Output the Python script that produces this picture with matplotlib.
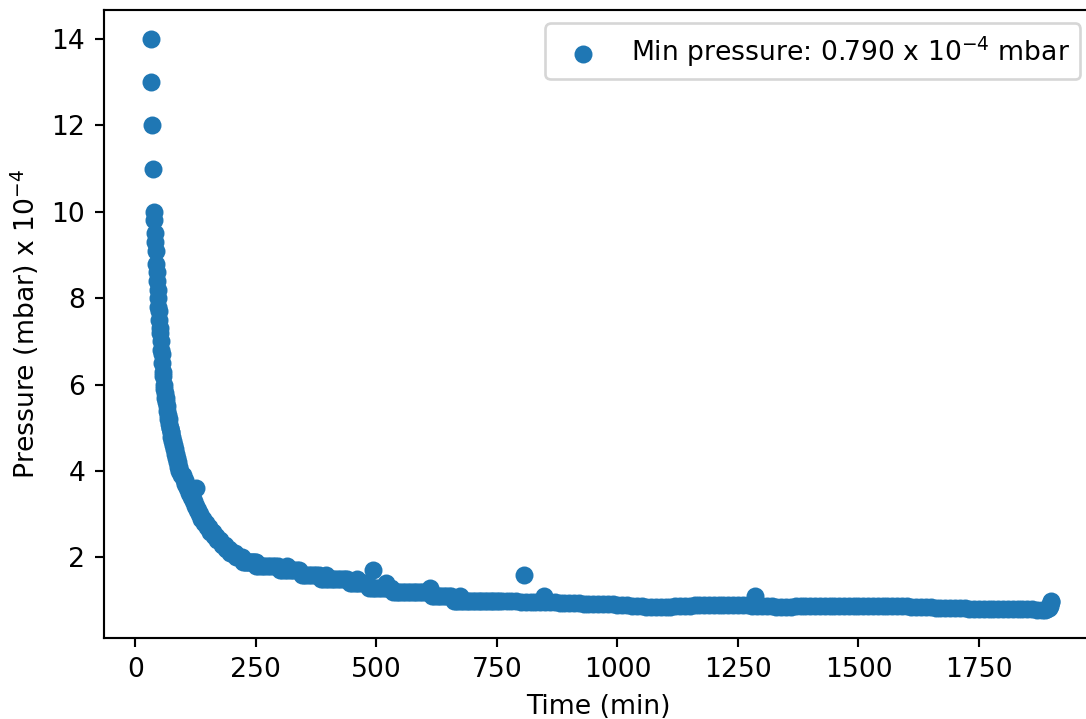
import matplotlib
matplotlib.use("Agg")
import matplotlib.pyplot as plt
import numpy as np

# Gauge readings during pump-down (pressure in units of 1e-4 mbar)
t_start = [32, 33, 34, 36, 38]
p_start = [14, 13, 12, 11, 10]

t_fast = list(range(39, 93))
p_fast = [9.8, 9.5, 9.3, 9.1, 8.8, 8.6, 8.4, 8.2, 8.0,
          7.8, 7.7, 7.5, 7.3, 7.2, 7.0,
          6.8, 6.7, 6.5, 6.3, 6.2, 6.0,
          5.9, 5.8, 5.7, 5.7, 5.6, 5.5, 5.4, 5.3, 5.2, 5.2, 5.1, 5.0,
          5.0, 4.9, 4.9, 4.8, 4.8, 4.7, 4.7, 4.6, 4.6, 4.5, 4.5, 4.4, 4.4,
          4.3, 4.3, 4.2, 4.2, 4.1, 4.1, 4.0, 4.0]

t_knee = [94, 96, 98, 100, 102, 104, 106, 108, 110, 112, 114, 116, 118,
          120, 122, 124, 126, 128, 130, 132, 134]
p_knee = [3.9, 3.9, 3.9, 3.8, 3.8, 3.7, 3.7, 3.6, 3.6, 3.5, 3.5, 3.4, 3.4,
          3.3, 3.3, 3.2, 3.2, 3.1, 3.1, 3.0, 3.0]

t_bend = list(range(137, 249, 3))
p_bend = [2.9, 2.9, 2.8, 2.8, 2.7, 2.7, 2.6, 2.6, 2.6, 2.5, 2.5,
          2.4, 2.4, 2.4, 2.3, 2.3, 2.3, 2.2, 2.2, 2.2,
          2.1, 2.1, 2.1, 2.1, 2.0, 2.0, 2.0, 2.0, 2.0,
          1.9, 1.9, 1.9, 1.9, 1.9, 1.9, 1.9, 1.9, 1.9]

t_tail = list(range(250, 761, 5))
p_tail = ([1.8] * 10 + [1.7] * 9 + [1.6] * 8 + [1.5] * 12 + [1.4] * 8
          + [1.3] * 10 + [1.2] * 16 + [1.1] * 9 + [1.0] * 21)

t_late = list(range(770, 1881, 10))
p_late = [0.99, 0.99, 0.99, 0.98, 0.98, 0.98, 0.98, 0.97, 0.97, 0.96,
          0.96, 0.95, 0.95, 0.94, 0.94, 0.94, 0.93, 0.93, 0.93, 0.93,
          0.92, 0.92, 0.92, 0.91, 0.90, 0.89, 0.88, 0.87, 0.87, 0.86,
          0.86, 0.86, 0.86, 0.86, 0.86, 0.87, 0.87, 0.88, 0.88, 0.89,
          0.89, 0.89, 0.90, 0.90, 0.90, 0.90, 0.90, 0.90, 0.89, 0.89,
          0.89, 0.88, 0.88, 0.87, 0.87, 0.87, 0.86, 0.86, 0.86, 0.86,
          0.87, 0.87, 0.87, 0.87, 0.87, 0.87, 0.87, 0.87,
          0.88, 0.88, 0.88, 0.88, 0.88, 0.88, 0.88, 0.88, 0.88, 0.88,
          0.88, 0.88, 0.88, 0.88, 0.88,
          0.87, 0.86, 0.85, 0.85, 0.85, 0.85, 0.84, 0.84, 0.83,
          0.82, 0.82, 0.82, 0.82,
          0.81, 0.81, 0.81, 0.81, 0.81, 0.81, 0.81, 0.81,
          0.80, 0.80, 0.80, 0.80, 0.80, 0.80,
          0.79, 0.79]

t_end = [1888, 1892, 1895, 1897, 1898, 1899, 1899]
p_end = [0.79, 0.81, 0.84, 0.88, 0.93, 0.97, 1.0]

# Isolated pressure bursts
t_spike = [125, 251, 314, 395, 459, 493, 521, 611, 673, 806, 848, 1286]
p_spike = [3.6, 1.9, 1.8, 1.6, 1.5, 1.7, 1.4, 1.3, 1.1, 1.6, 1.1, 1.1]

time_min = np.concatenate([t_start, t_fast, t_knee, t_bend, t_tail,
                           t_late, t_end, t_spike]).astype(float)
pressure = np.concatenate([p_start, p_fast, p_knee, p_bend, p_tail,
                           p_late, p_end, p_spike]).astype(float)
order = np.argsort(time_min, kind="stable")
time_min, pressure = time_min[order], pressure[order]

min_pressure = pressure.min()

DPI = 192
W, H = 1086, 719
fig = plt.figure(figsize=(W / DPI, H / DPI), dpi=DPI)
ax = fig.add_axes([104 / W, 80.7 / H, 989.7 / W, 628.3 / H])

ax.scatter(time_min, pressure, s=33,
           label=f"Min pressure: {min_pressure:.3f} x 10$^{{-4}}$ mbar")
ax.set_xlim(-65, 1988)
ax.set_ylim(0.13, 14.67)
ax.set_xlabel("Time (min)")
ax.set_ylabel("Pressure (mbar) x 10$^{-4}$")
ax.legend(loc="upper right")

fig.savefig("out.png", dpi=DPI)
